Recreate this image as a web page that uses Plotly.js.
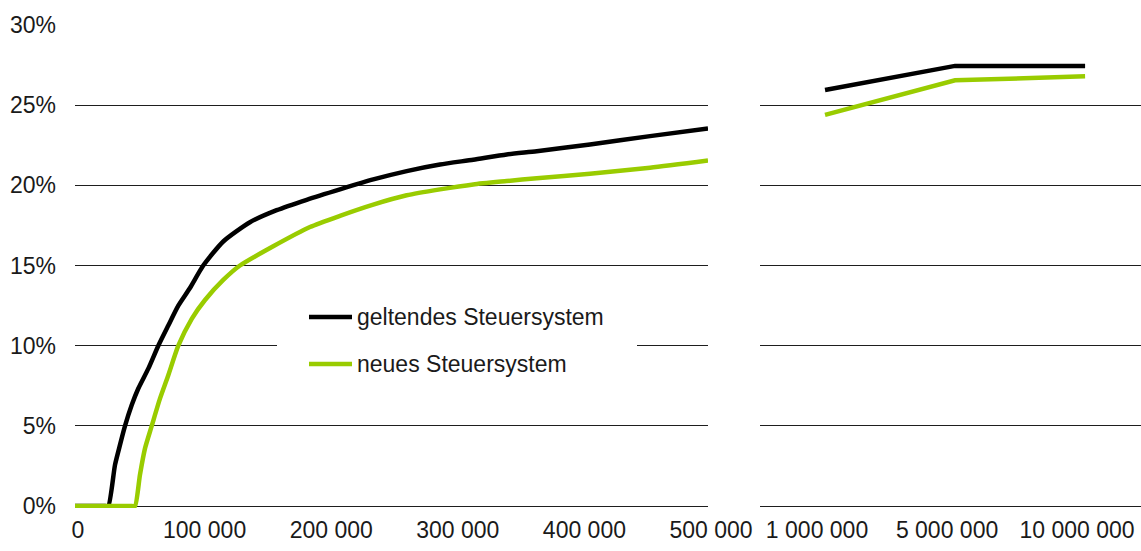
<!DOCTYPE html>
<html>
<head>
<meta charset="utf-8">
<script src="https://cdn.plot.ly/plotly-3.0.1.min.js"></script>
<style>
  html, body { margin: 0; padding: 0; background: #ffffff; }
  #chart { width: 1141px; height: 551px; }
</style>
</head>
<body>
<div id="chart"></div>
<script>
// ---- Data ----
// Left panel: income (CHF) vs. tax rate (%)
const geltendIncome = [0, 24000, 26300, 31600, 35500, 39500, 44800, 50000, 57900, 65800, 73700, 81600, 90800, 101300, 117100, 138200, 159300, 183000, 209300, 235600, 262000, 288300, 314600, 341000, 364700, 406800, 454200, 500000];
const geltendRate   = [0, 0, 0, 2.57, 3.8, 5.0, 6.3, 7.33, 8.57, 10.0, 11.26, 12.5, 13.6, 15.0, 16.5, 17.7, 18.45, 19.1, 19.75, 20.37, 20.89, 21.3, 21.6, 21.93, 22.13, 22.55, 23.07, 23.55];

const neuIncome = [0, 45000, 47400, 51300, 55300, 60600, 67100, 73700, 81600, 92200, 102700, 117100, 130300, 156600, 185600, 209300, 235600, 262000, 288300, 314600, 341000, 364700, 406800, 454200, 500000];
const neuRate   = [0, 0, 0, 1.95, 3.6, 5.0, 6.7, 8.16, 10.0, 11.68, 12.85, 14.1, 15.0, 16.2, 17.4, 18.1, 18.8, 19.38, 19.75, 20.06, 20.27, 20.45, 20.72, 21.1, 21.55];

// Right panel: high incomes
const highCategories = ['1 000 000', '5 000 000', '10 000 000'];
const geltendHigh = [25.95, 27.45, 27.45];
const neuHigh     = [24.4, 26.55, 26.8];

// Tick labels
const leftTickVals = [0, 100000, 200000, 300000, 400000, 500000];
const leftTickText = ['0', '100 000', '200 000', '300 000', '400 000', '500 000'];
const yTickVals = [0, 5, 10, 15, 20, 25, 30];
const yTickText = ['0%', '5%', '10%', '15%', '20%', '25%', '30%'];

const seriesNames = ['geltendes Steuersystem', 'neues Steuersystem'];
const colors = ['#000000', '#99cc00'];

// ---- Layout helpers (pixel -> paper) ----
const W = 1141, H = 551;
const M = { l: 75, r: 0, t: 25, b: 43 };
const PW = W - M.l - M.r, PH = H - M.t - M.b;
const px = x => (x - M.l) / PW;
const py = y => (H - M.b - y) / PH;

const fontFam = 'Liberation Sans, Arial, Helvetica, sans-serif';
const fs = 23;
const txtColor = '#1a1a1a';
const gridColor = '#1e1e1e';

const traces = [
  { x: geltendIncome, y: geltendRate, xaxis: 'x', yaxis: 'y', type: 'scatter', mode: 'lines',
    name: seriesNames[0], line: { color: colors[0], width: 4.5, shape: 'spline', smoothing: 0.6 }, showlegend: false },
  { x: neuIncome, y: neuRate, xaxis: 'x', yaxis: 'y', type: 'scatter', mode: 'lines',
    name: seriesNames[1], line: { color: colors[1], width: 4.5, shape: 'spline', smoothing: 0.6 }, showlegend: false },
  { x: highCategories, y: geltendHigh, xaxis: 'x2', yaxis: 'y2', type: 'scatter', mode: 'lines',
    name: seriesNames[0], line: { color: colors[0], width: 4.5 }, showlegend: false },
  { x: highCategories, y: neuHigh, xaxis: 'x2', yaxis: 'y2', type: 'scatter', mode: 'lines',
    name: seriesNames[1], line: { color: colors[1], width: 4.5 }, showlegend: false }
];

// manual legend (box masks gridline, line samples, text)
const legendRows = [317, 364];
const shapes = [
  { type: 'rect', xref: 'paper', yref: 'paper', x0: px(277), x1: px(637), y0: py(390), y1: py(292),
    fillcolor: '#ffffff', line: { width: 0 }, layer: 'above' }
];
const annotations = [];
seriesNames.forEach((nm, i) => {
  shapes.push({ type: 'line', xref: 'paper', yref: 'paper', x0: px(309), x1: px(352),
    y0: py(legendRows[i]), y1: py(legendRows[i]), line: { color: colors[i], width: 4.5 }, layer: 'above' });
  annotations.push({ xref: 'paper', yref: 'paper', x: px(355), y: py(legendRows[i]), xanchor: 'left', yanchor: 'middle',
    text: nm, showarrow: false, font: { family: fontFam, size: fs, color: txtColor } });
});

const layout = {
  width: W, height: H,
  margin: M,
  paper_bgcolor: '#ffffff', plot_bgcolor: '#ffffff',
  font: { family: fontFam, size: fs, color: txtColor },
  showlegend: false,
  xaxis: {
    domain: [0, px(708)], range: [0, 500000], type: 'linear',
    tickvals: leftTickVals, ticktext: leftTickText, ticklabelshift: 3, ticklabelstandoff: 6,
    showgrid: false, zeroline: false, showline: false, ticks: '',
    tickfont: { family: fontFam, size: fs, color: txtColor }
  },
  yaxis: {
    domain: [0, 1], range: [-0.12, 30], tickvals: yTickVals, ticktext: yTickText,
    showgrid: true, gridcolor: gridColor, gridwidth: 1, zeroline: false, showline: false, ticks: '',
    ticklabelstandoff: 18,
    tickfont: { family: fontFam, size: fs, color: txtColor }
  },
  xaxis2: {
    domain: [px(760), 1], type: 'category', range: [-0.5, 2.43],
    anchor: 'y2', ticklabelshift: -8, ticklabelstandoff: 6,
    showgrid: false, zeroline: false, showline: false, ticks: '',
    tickfont: { family: fontFam, size: fs, color: txtColor }
  },
  yaxis2: {
    domain: [0, 1], range: [-0.12, 30], anchor: 'x2', tickvals: yTickVals,
    showticklabels: false,
    showgrid: true, gridcolor: gridColor, gridwidth: 1, zeroline: false, showline: false, ticks: ''
  },
  shapes: shapes,
  annotations: annotations
};

Plotly.newPlot('chart', traces, layout, { staticPlot: true, displayModeBar: false });
</script>
</body>
</html>
